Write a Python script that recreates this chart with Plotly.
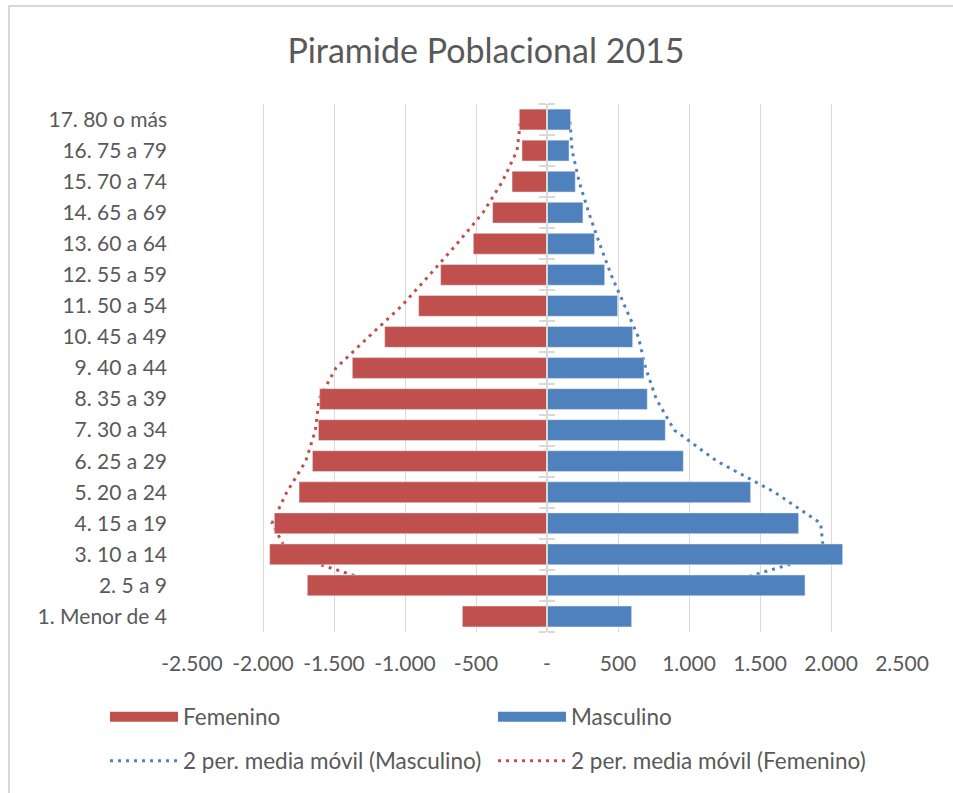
import plotly.graph_objects as go
import pandas as pd

# ---------------- data ----------------
categorias = [
    "1. Menor de 4", "2. 5 a 9", "3. 10 a 14", "4. 15 a 19", "5. 20 a 24",
    "6. 25 a 29", "7. 30 a 34", "8. 35 a 39", "9. 40 a 44", "10. 45 a 49",
    "11. 50 a 54", "12. 55 a 59", "13. 60 a 64", "14. 65 a 69", "15. 70 a 74",
    "16. 75 a 79", "17. 80 o más",
]
femenino = [596, 1688, 1953, 1920, 1746, 1652, 1610, 1601, 1371, 1143,
            904, 749, 519, 383, 246, 176, 195]
masculino = [596, 1817, 2082, 1772, 1434, 960, 833, 706, 683, 603,
             497, 406, 335, 253, 199, 155, 166]
x_tick_vals = [-2500, -2000, -1500, -1000, -500, 0, 500, 1000, 1500, 2000, 2500]
x_tick_text = ["-2.500", "-2.000", "-1.500", "-1.000", "-500", "-",
               "500", "1.000", "1.500", "2.000", "2.500"]

# Excel "2 per. media móvil" trendlines: mean of each bar and the one before
mm_fem = pd.Series(femenino).rolling(2).mean()
mm_masc = pd.Series(masculino).rolling(2).mean()

# ---------------- layout helpers ----------------
W, H = 953, 793
ML, MR, MT, MB = 192, 51, 104, 161
PW, PH = W - ML - MR, H - MT - MB


def px_x(p):
    return (p - ML) / PW


def px_y(p):
    return 1 - (p - MT) / PH


RED = "#C0504D"
BLUE = "#4F81BD"
TXT = "#595959"
GRID = "#D9D9D9"
FONT = "Lato, Calibri, sans-serif"
FS = 21

fig = go.Figure()

# trendlines on the base subplot (drawn beneath the bars)
fig.add_trace(go.Scatter(
    x=mm_masc[1:].tolist(), y=categorias[1:], mode="lines",
    line=dict(color=BLUE, width=3, dash="3px,5px"),
    name="2 per. media móvil (Masculino)", legend="legend2", hoverinfo="skip"))
fig.add_trace(go.Scatter(
    x=(-mm_fem[1:]).tolist(), y=categorias[1:], mode="lines",
    line=dict(color=RED, width=3, dash="3px,5px"),
    name="2 per. media móvil (Femenino)", legend="legend2", hoverinfo="skip"))

# bars on overlaying subplots
fig.add_trace(go.Bar(
    y=categorias, x=[-v for v in femenino], orientation="h",
    marker=dict(color=RED), yaxis="y2", showlegend=False, name="Femenino"))
fig.add_trace(go.Bar(
    y=categorias, x=masculino, orientation="h",
    marker=dict(color=BLUE), yaxis="y3", showlegend=False, name="Masculino"))

# legend keys for the bars (wide rectangles as in Excel)
fig.add_trace(go.Scatter(x=[None], y=[None], mode="lines",
                         line=dict(color=RED, width=14), name="Femenino",
                         legend="legend"))
fig.add_trace(go.Scatter(x=[None], y=[None], mode="lines",
                         line=dict(color=BLUE, width=14), name="Masculino",
                         legend="legend"))

ycommon = dict(type="category", categoryorder="array", categoryarray=categorias,
               range=[-0.5, len(categorias) - 0.5], showgrid=False, zeroline=False,
               fixedrange=True)
yover = dict(ycommon, overlaying="y", anchor="free", position=0.5,
             showline=True, linecolor=GRID, linewidth=2, ticks="outside",
             tickson="boundaries", ticklen=7, tickcolor=GRID, tickwidth=2,
             showticklabels=False)

legend_common = dict(orientation="h", xanchor="left", yanchor="middle",
                     x=px_x(105), entrywidth=305, entrywidthmode="pixels",
                     itemwidth=68, font=dict(family=FONT, size=22.5, color=TXT),
                     bgcolor="rgba(0,0,0,0)", traceorder="normal")

fig.update_layout(
    width=W, height=H,
    margin=dict(l=ML, r=MR, t=MT, b=MB, autoexpand=False),
    paper_bgcolor="white", plot_bgcolor="white",
    font=dict(family=FONT, color=TXT, size=FS),
    title=dict(text="Piramide Poblacional 2015", xref="container", x=486 / W,
               xanchor="center", yref="container", y=1 - 51 / H, yanchor="middle",
               font=dict(family=FONT, size=34, color=TXT)),
    barmode="overlay", bargap=0.33,
    xaxis=dict(range=[-2500, 2500], tickvals=x_tick_vals, ticktext=x_tick_text,
               showgrid=True, gridcolor=GRID, gridwidth=1, zeroline=False,
               showline=False, ticks="", ticklabelstandoff=17,
               tickfont=dict(family=FONT, size=FS, color=TXT), fixedrange=True),
    yaxis=dict(ycommon, ticks="", showline=False, ticklabelstandoff=24,
               tickfont=dict(family=FONT, size=FS, color=TXT)),
    yaxis2=dict(yover, side="left"),
    yaxis3=dict(yover, side="right"),
    legend=dict(legend_common, y=px_y(717)),
    legend2=dict(legend_common, y=px_y(761)),
    showlegend=True,
    shapes=[dict(type="rect", xref="paper", yref="paper",
                 x0=px_x(9), x1=px_x(970), y0=px_y(6), y1=px_y(810),
                 line=dict(color=GRID, width=2), fillcolor="rgba(0,0,0,0)",
                 layer="below")],
)

fig.write_html("out.html", config={"displayModeBar": False},
               post_script="document.body.style.margin='0';")
